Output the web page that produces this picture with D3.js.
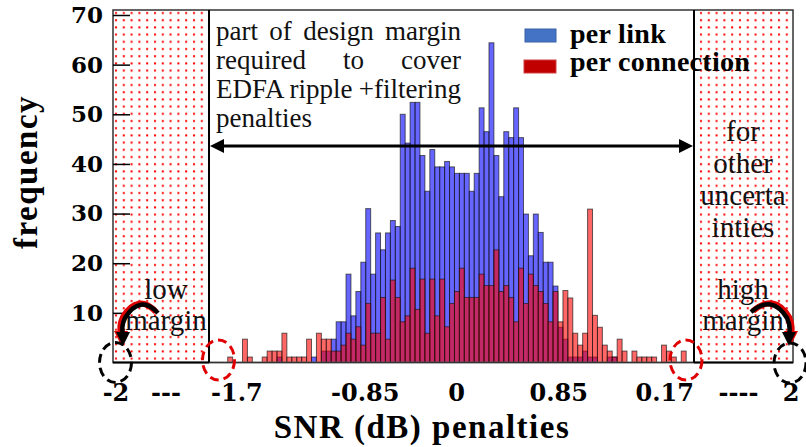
<!DOCTYPE html>
<html><head><meta charset="utf-8">
<script src="https://cdn.jsdelivr.net/npm/d3@7"></script>
<style>body{margin:0;background:#fff}svg{display:block}</style>
</head><body>
<svg id="c" width="806" height="447"></svg>
<script>
// ---------------- data ----------------
const binStart = -1.5689;   // dB, lower edge of first bin
const binWidth = 0.03456;   // dB
const seriesNames = ["per link", "per connection"];
const perLink = [
  0,0,0,0,0,0,0,0,0,0,
  1.1,0,0,0,0,0,0,1.1,0,2.3,
  2.3,4.7,8.2,8.2,17.8,9.4,14.3,20.2,31,17.8,
  26.1,22.7,26.1,28.6,27.4,50,44.2,52.4,52.4,41.7,
  34.5,42.9,39.4,39.4,40.5,39.4,38.1,38.1,38.1,34.5,
  38.1,51.3,46.5,64.4,41.7,33.4,46.5,45.3,51.3,45.3,
  29.9,21.5,29.9,26.2,20.2,20.2,15.4,7.1,4.7,1.1,
  1.1,1.1,2.3,1.1,1.1,0,0,1.1,1.1,0,
  0,0,0,0,0,0,0,0,0,0,
  0,0,0
];
const perConnection = [
  1.1,0,0,4.7,1.1,0,0,1.1,2.3,2.3,
  2.3,5.9,1.1,1.1,1.1,1.1,4.7,0,5.9,4.7,
  4.7,2.3,2.3,3.5,5.9,4.7,7.2,3.5,11.9,5.9,
  5.9,13.1,4.7,16.6,13.1,8.2,9.4,19,10.7,16.8,
  5.9,16.8,9.4,16.8,7.2,11.9,14.3,19,13.1,13.1,
  13.1,17.8,15.5,15.5,22.7,14.3,15.5,13.1,8.2,19,
  11.9,17.8,15.5,14.3,11.9,8.2,14.3,8.2,14.5,13,
  5.9,3.5,5.9,30.9,9.5,7.1,3.5,2.3,1.1,4.7,
  2.3,0,2.3,1.1,1.1,1.1,1.1,0,3.5,2.3,
  1.1,0,2.3
];
const yTicks = [10, 20, 30, 40, 50, 60, 70];
const xTickValues = [-2, -1.85, -1.7, -0.85, 0, 0.85, 1.7, 1.85, 2];
const xTickLabels = ["-2", "---", "-1.7", "-0.85", "0", "0.85", "0.17", "----", "2"];
const marginLow = -1.7, marginHigh = 1.7, axisMin = -2, axisMax = 2;

(function () {
// ---------------- layout ----------------
const svg = d3.select("#c");
const yTop = 10, base = 362.5;
const x = d3.scaleLinear().domain([axisMin, marginLow, marginHigh, axisMax]).range([113, 209, 694, 793]);
const y = d3.scaleLinear().domain([0, 70]).range([base, 15]);
const serif = "'Liberation Serif', 'Times New Roman', serif";
const numFont = "'DejaVu Serif', serif";

const defs = svg.append("defs");
const pat = defs.append("pattern").attr("id", "dots").attr("patternUnits", "userSpaceOnUse")
  .attr("width", 7.8).attr("height", 7.2).attr("x", 113).attr("y", 10);
pat.append("rect").attr("x", 2).attr("y", 2).attr("width", 2).attr("height", 2).attr("fill", "#ff0000");
defs.append("clipPath").attr("id", "rclip").append("rect")
  .attr("x", x(marginHigh) + 1).attr("y", yTop).attr("width", x(axisMax) - x(marginHigh) - 1).attr("height", base - yTop);

// margin boxes
[[axisMin, marginLow], [marginHigh, axisMax]].forEach(([a, b]) => {
  svg.append("rect").attr("x", x(a)).attr("y", yTop).attr("width", x(b) - x(a)).attr("height", base - yTop)
    .attr("fill", "url(#dots)");
});

// bars
const bins = perLink.map((_, i) => binStart + i * binWidth);
function drawSeries(vals, fill) {
  svg.append("g").selectAll("rect").data(vals.map((v, i) => ({v, x0: bins[i]})).filter(d => d.v > 0))
    .join("rect")
    .attr("x", d => x(d.x0)).attr("width", d => x(d.x0 + binWidth) - x(d.x0))
    .attr("y", d => y(d.v)).attr("height", d => y(0) - y(d.v))
    .attr("fill", fill).attr("stroke", "rgba(20,20,20,0.65)").attr("stroke-width", 1);
}
drawSeries(perLink, "rgba(0,0,255,0.6)");
drawSeries(perConnection, "rgba(255,0,0,0.6)");

// baseline + frame
svg.append("line").attr("x1", x(marginLow)).attr("x2", x(marginHigh)).attr("y1", base).attr("y2", base)
  .attr("stroke", "#777").attr("stroke-width", 1.5);
svg.append("rect").attr("x", x(axisMin)).attr("y", yTop).attr("width", x(axisMax) - x(axisMin)).attr("height", base - yTop)
  .attr("fill", "none").attr("stroke", "#333").attr("stroke-width", 1.5);
svg.append("line").attr("x1", x(axisMin)).attr("x2", x(marginLow)).attr("y1", base).attr("y2", base)
  .attr("stroke", "#000").attr("stroke-width", 2);
svg.append("line").attr("x1", x(marginHigh)).attr("x2", x(axisMax)).attr("y1", base).attr("y2", base)
  .attr("stroke", "#000").attr("stroke-width", 2);
[marginLow, marginHigh].forEach(v => {
  svg.append("line").attr("x1", x(v)).attr("x2", x(v)).attr("y1", yTop).attr("y2", base)
    .attr("stroke", "#000").attr("stroke-width", 2);
});

// y axis (ticks pointing inward)
const yAxis = svg.append("g").attr("transform", `translate(${x(axisMin)},0)`)
  .call(d3.axisLeft(y).tickValues(yTicks).tickSize(-17).tickPadding(10));
yAxis.select(".domain").remove();
yAxis.selectAll(".tick line").attr("stroke", "#000").attr("stroke-width", 1.5);
yAxis.selectAll(".tick text").attr("font-family", numFont).attr("font-weight", "bold")
  .attr("font-size", 23).attr("fill", "#000");

// x labels
const anchorFor = v => v === marginLow ? "start" : (v === marginHigh ? "end" : "middle");
const nudge = {"-0.85": 35, "0": 5, "0.85": -14, "-2": 3, "-1.85": 5, "-1.7": 2, "1.85": -5, "2": -2};
svg.append("g").selectAll("text").data(xTickValues).join("text")
  .attr("x", v => x(v) + (nudge[String(v)] || 0)).attr("y", 401)
  .attr("text-anchor", anchorFor)
  .attr("font-family", numFont).attr("font-weight", "bold").attr("font-size", 24)
  .text((v, i) => xTickLabels[i]);

// axis titles
svg.append("text").attr("transform", "translate(37,172) rotate(-90)").attr("text-anchor", "middle")
  .attr("font-family", serif).attr("font-weight", "bold").attr("font-size", 33).attr("letter-spacing", 1.5)
  .text("frequency");
svg.append("text").attr("x", 422).attr("y", 438).attr("text-anchor", "middle")
  .attr("font-family", serif).attr("font-weight", "bold").attr("font-size", 33).attr("letter-spacing", 1.5)
  .text("SNR (dB) penalties");

// annotation text (justified by word spacing)
const ann = ["part of design margin", "required to cover", "EDFA ripple +filtering", "penalties"];
svg.append("g").selectAll("text").data(ann).join("text")
  .attr("x", 216).attr("y", (d, i) => 40 + i * 29)
  .attr("font-family", serif).attr("font-size", 27).attr("fill", "#111")
  .text(d => d)
  .each(function(d, i) {
    if (i < 3) {
      const w = this.getComputedTextLength();
      const gaps = d.split(" ").length - 1;
      d3.select(this).attr("word-spacing", (245 - w) / gaps);
    }
  });

// double arrow
const ay = 146;
svg.append("line").attr("x1", x(marginLow) + 8).attr("x2", x(marginHigh) - 8).attr("y1", ay).attr("y2", ay)
  .attr("stroke", "#000").attr("stroke-width", 3);
svg.append("path").attr("d", `M${x(marginLow)+1},${ay} l14,-7 v14 z`).attr("fill", "#000");
svg.append("path").attr("d", `M${x(marginHigh)-1},${ay} l-14,-7 v14 z`).attr("fill", "#000");

// legend
const legColors = ["#4472C4", "#C00000"];
const leg = svg.append("g");
seriesNames.forEach((n, i) => {
  leg.append("rect").attr("x", 525 - i).attr("y", 29 + i * 31).attr("width", 31 + i).attr("height", 13)
    .attr("fill", legColors[i]).attr("stroke", i ? "#d04040" : "#3a62a8").attr("stroke-width", 1);
  leg.append("text").attr("x", 570).attr("y", 43 + i * 28).attr("font-family", serif).attr("font-weight", "bold")
    .attr("font-size", 28).attr("letter-spacing", 0.3).text(n);
});

// box texts
const rightTxt = ["for", "other", "uncerta", "inties"];
svg.append("g").attr("clip-path", "url(#rclip)").selectAll("text").data(rightTxt).join("text")
  .attr("x", 743).attr("y", (d, i) => 141 + i * 32).attr("text-anchor", "middle")
  .attr("font-family", serif).attr("font-size", 29).attr("fill", "#111").text(d => d);
[["low", "margin", 166], ["high", "margin", 743]].forEach(([a, b, cx]) => {
  svg.append("text").attr("x", cx).attr("y", 299).attr("text-anchor", "middle")
    .attr("font-family", serif).attr("font-size", 29).attr("fill", "#111").text(a);
  svg.append("text").attr("x", cx).attr("y", 330).attr("text-anchor", "middle")
    .attr("font-family", serif).attr("font-size", 29).attr("fill", "#111").text(b);
});

// curved arrows
function curved(d, head, red) {
  svg.append("path").attr("d", d).attr("fill", "none").attr("stroke", "#e00000").attr("stroke-width", 6)
    .attr("transform", red);
  svg.append("path").attr("d", head).attr("fill", "#e00000").attr("transform", red);
  svg.append("path").attr("d", d).attr("fill", "none").attr("stroke", "#000").attr("stroke-width", 4.5);
  svg.append("path").attr("d", head).attr("fill", "#000");
}
curved("M158,313 Q140,294 125,318 Q121,326 123,335", "M116,332 L130,332 L123,346 Z", "translate(-2,-1)");
curved("M751,312 Q772,294 787,318 Q791,326 789,335", "M782,332 L796,332 L789,346 Z", "translate(2,-1)");

// dashed ellipses
[[115.5, 362.5, "#000"], [218.5, 360, "#e00000"], [686, 360, "#e00000"], [790, 363, "#000"]].forEach(([cx, cy, c]) => {
  svg.append("ellipse").attr("cx", cx).attr("cy", cy).attr("rx", 16).attr("ry", 20)
    .attr("fill", "none").attr("stroke", c).attr("stroke-width", 3).attr("stroke-dasharray", "9,5");
});
})();
</script>
</body></html>
